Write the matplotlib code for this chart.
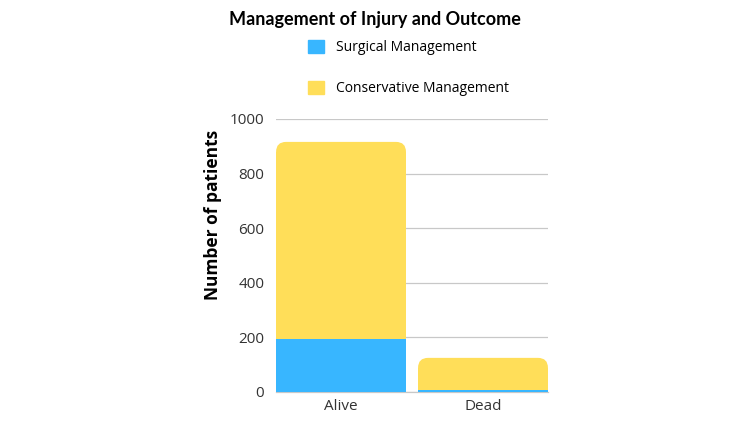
import matplotlib.pyplot as plt
from matplotlib.patches import FancyBboxPatch, Patch

plt.rcParams['font.family'] = ['Open Sans', 'DejaVu Sans']

outcomes = ['Alive', 'Dead']
surgical = [194, 9]
conservative = [722, 116]
series_names = ['Surgical Management', 'Conservative Management']

blue = '#38B6FF'
yellow = '#FFDE59'

fig = plt.figure(figsize=(7.5, 4.22), dpi=100)
ax = fig.add_axes([0.368, 0.0711, 0.3627, 0.647])

width = 0.915
x = list(range(len(outcomes)))
ax.set_xlim(-0.458, 1.458)
ax.set_ylim(0, 1000)

# aspect of data units so the rounded corners come out circular
px_x = 272 / (1.458 + 0.458)
px_y = 273 / 1000
aspect = px_x / px_y
r = 10 / px_x

for i in x:
    total = surgical[i] + conservative[i]
    # rounded top part
    top = FancyBboxPatch((i - width / 2, 0), width, total,
                         boxstyle=f"round,pad=0,rounding_size={r}",
                         mutation_aspect=aspect, fc=yellow, ec='none', zorder=2)
    ax.add_patch(top)
    # square off the bottom corners
    ax.bar(i, total - r * aspect, width=width, color=yellow, zorder=2)
    ax.bar(i, surgical[i], width=width, color=blue, zorder=3)

ax.set_xticks(x)
ax.set_xticklabels(outcomes)
ax.set_yticks(range(0, 1001, 200))
ax.tick_params(length=0, labelsize=11, colors='#333333')
ax.tick_params(axis='x', pad=5)
ax.tick_params(axis='y', pad=8.5)
ax.yaxis.grid(True, color='#c8c8c8', linewidth=0.9, zorder=0)
ax.set_axisbelow(True)
for s in ['top', 'right', 'left']:
    ax.spines[s].set_visible(False)
ax.spines['bottom'].set_color('#c8c8c8')
ax.spines['bottom'].set_linewidth(0.9)

ax.set_ylabel('Number of patients', fontsize=12.5, fontweight='bold')
ax.yaxis.set_label_coords(-0.198, 0.648)

fig.text(0.5, 0.953, 'Management of Injury and Outcome', ha='center', va='center',
         fontsize=13, fontweight='bold', family=['Lato', 'DejaVu Sans'])

handles = [Patch(color=blue), Patch(color=yellow)]
fig.legend(handles, series_names, loc='upper left', bbox_to_anchor=(0.411, 0.906),
           frameon=False, handlelength=1.1, handleheight=1.1, handletextpad=0.9,
           labelspacing=1.85, fontsize=10, borderaxespad=0, borderpad=0)

fig.savefig('out.png', dpi=100)
